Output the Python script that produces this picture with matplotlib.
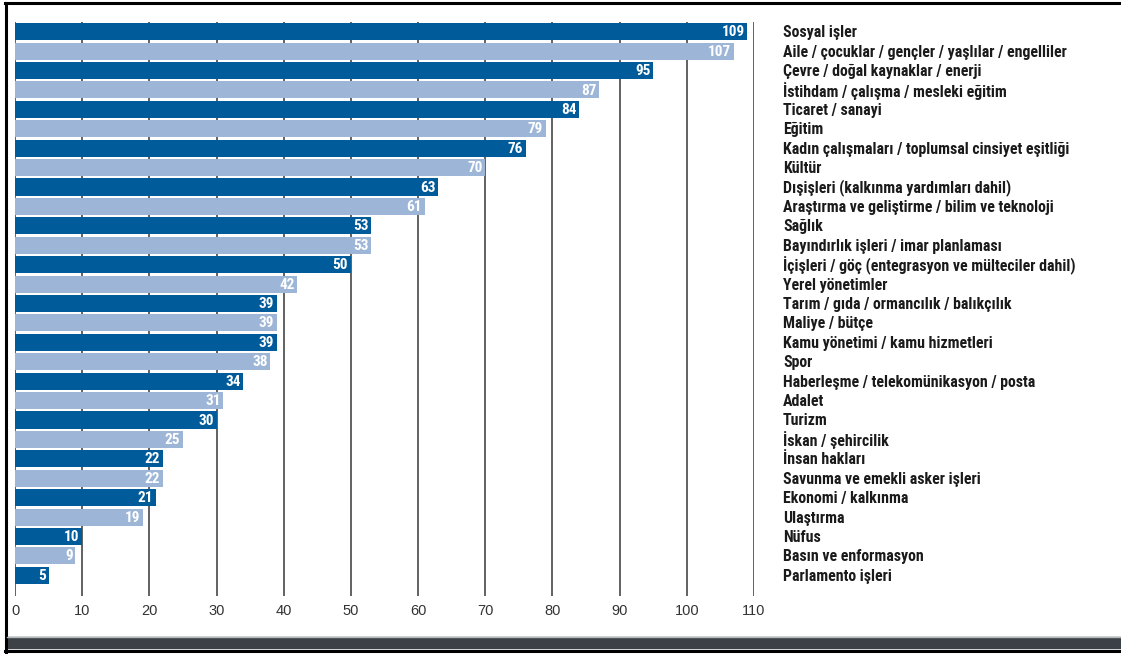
import numpy as np
import matplotlib
matplotlib.use("Agg")
from matplotlib import pyplot as plt
from matplotlib.lines import Line2D
from matplotlib.patches import Rectangle
import matplotlib.transforms as mtransforms

# konu başlıkları ve sayılar
topics = [
    "Sosyal işler",
    "Aile / çocuklar / gençler / yaşlılar / engelliler",
    "Çevre / doğal kaynaklar / enerji",
    "İstihdam / çalışma / mesleki eğitim",
    "Ticaret / sanayi",
    "Eğitim",
    "Kadın çalışmaları / toplumsal cinsiyet eşitliği",
    "Kültür",
    "Dışişleri (kalkınma yardımları dahil)",
    "Araştırma ve geliştirme / bilim ve teknoloji",
    "Sağlık",
    "Bayındırlık işleri / imar planlaması",
    "İçişleri / göç (entegrasyon ve mülteciler dahil)",
    "Yerel yönetimler",
    "Tarım / gıda / ormancılık / balıkçılık",
    "Maliye / bütçe",
    "Kamu yönetimi / kamu hizmetleri",
    "Spor",
    "Haberleşme / telekomünikasyon / posta",
    "Adalet",
    "Turizm",
    "İskan / şehircilik",
    "İnsan hakları",
    "Savunma ve emekli asker işleri",
    "Ekonomi / kalkınma",
    "Ulaştırma",
    "Nüfus",
    "Basın ve enformasyon",
    "Parlamento işleri",
]
counts = [109, 107, 95, 87, 84, 79, 76, 70, 63, 61, 53, 53, 50, 42, 39, 39, 39,
          38, 34, 31, 30, 25, 22, 22, 21, 19, 10, 9, 5]
x_ticks = list(range(0, 111, 10))

dark_blue = "#005b9a"
light_blue = "#9db6d7"
label_font = ["Roboto Condensed", "DejaVu Sans"]
tick_font = ["Liberation Sans", "DejaVu Sans"]

fig = plt.figure(figsize=(11.21, 6.54), dpi=100)
ax = fig.add_axes([15 / 1121, 58 / 654, 739 / 1121, 574 / 654])

n = len(counts)
y = np.arange(n)
colors = [dark_blue if i % 2 == 0 else light_blue for i in range(n)]
ax.barh(y, counts, height=0.88, color=colors, zorder=2)

for xi in x_ticks:
    ax.axvline(xi, color="#555555", linewidth=1.3, zorder=1)

ax.set_xlim(0, 110)
ax.set_ylim(n - 0.5 + 11 / 19.41, -0.5)
for s in ax.spines.values():
    s.set_visible(False)
ax.set_yticks([])
ax.set_xticks(x_ticks)
ax.tick_params(axis="x", length=0, pad=6)
for lbl in ax.get_xticklabels():
    lbl.set_fontsize(10.5)
    lbl.set_family(tick_font)
    lbl.set_color("#333333")

# sayılar çubukların içinde
for yi, v in zip(y, counts):
    ax.text(v - 0.4, yi + 0.03, str(v), ha="right", va="center", color="white",
            fontsize=11, fontweight="bold", family=label_font, zorder=3)

# konu adları sağ tarafta
trans = mtransforms.blended_transform_factory(fig.transFigure, ax.transData)
for yi, name in zip(y, topics):
    ax.text(783 / 1121, yi + 0.05, name, transform=trans, ha="left", va="center",
            fontsize=11.4, fontweight="bold", family=label_font, color="#1a1a1a",
            clip_on=False)

# çerçeve
W, H = 1121, 654
def fx(px):
    return px / W
def fy(py):
    return 1 - py / H

fig.add_artist(Line2D([fx(6), fx(6)], [fy(3), fy(652)], color="black", linewidth=2.2))
fig.add_artist(Line2D([fx(5), 1], [fy(3), fy(3)], color="black", linewidth=2.2))
fig.add_artist(Rectangle((fx(7), fy(648)), 1, (648 - 637) / H, color="#3b4146",
                         transform=fig.transFigure))
fig.add_artist(Line2D([fx(7), 1], [fy(637), fy(637)], color="#b5b8ba", linewidth=1))
fig.add_artist(Line2D([fx(5), 1], [fy(651), fy(651)], color="black", linewidth=2.2))

fig.savefig("out.png", dpi=100)
